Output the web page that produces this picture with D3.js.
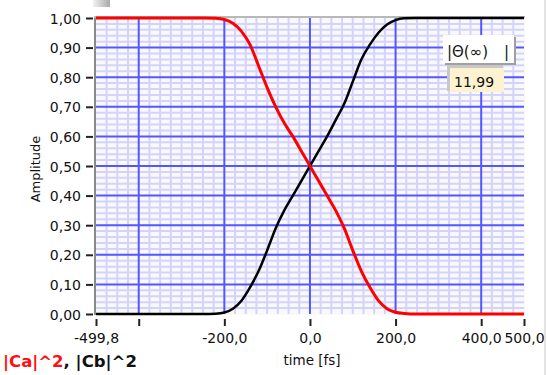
<!DOCTYPE html>
<html>
<head>
    <title>Amplitude vs time</title>
    <meta charset="utf-8">
</head>
<body style="margin:0;background:#fff">
<script src="https://d3js.org/d3.v7.min.js"></script>
<script>
    // data
    const time = [-499.8, -400, -300, -250, -220, -200, -180, -160, -140, -120, -100, -80, -60, -40, -20,
        0, 20, 40, 60, 80, 100, 120, 140, 160, 180, 200, 220, 250, 300, 400, 500];
    const ca2 = [1, 1, 1, 1, 0.999, 0.995, 0.982, 0.955, 0.91, 0.838, 0.765, 0.70, 0.645, 0.60, 0.55,
        0.50, 0.45, 0.40, 0.35, 0.29, 0.215, 0.145, 0.09, 0.045, 0.018, 0.006, 0.002, 0, 0, 0, 0];
    const cb2 = [0, 0, 0, 0, 0.001, 0.005, 0.018, 0.045, 0.09, 0.145, 0.215, 0.29, 0.35, 0.40, 0.45,
        0.50, 0.55, 0.60, 0.655, 0.71, 0.785, 0.86, 0.91, 0.95, 0.978, 0.993, 0.999, 1, 1, 1, 1];
    const xTicks = [-499.8, -400, -200, 0, 200, 400, 500];
    const xHidden = [-400];
    const yTicks = [0, 0.1, 0.2, 0.3, 0.4, 0.5, 0.6, 0.7, 0.8, 0.9, 1.0];
    const cursorName = '|\u0398(\u221E)';
    const cursorValue = 11.99;

    const SIZES = {
        WIDTH: 547,
        HEIGHT: 375,
        LEFT: 96,
        RIGHT: 524,
        TOP: 18,
        BOTTOM: 314
    };
    const FONT = 'DejaVu Sans, Verdana, sans-serif';

    // comma as decimal separator, plain hyphen for minus
    const locale = d3.formatLocale({decimal: ',', thousands: '.', grouping: [3], currency: ['', ''], minus: '-'});
    const fmt1 = locale.format('.1f');
    const fmt2 = locale.format('.2f');

    const svg = d3.select('body').append('svg')
        .attr('width', SIZES.WIDTH)
        .attr('height', SIZES.HEIGHT)
        .style('display', 'block');

    const x = d3.scaleLinear().domain([-499.8, 500]).range([SIZES.LEFT, SIZES.RIGHT]);
    const y = d3.scaleLinear().domain([0, 1]).range([SIZES.BOTTOM, SIZES.TOP]);

    // little gray gradient tab at the top
    const grad = svg.append('defs').append('linearGradient').attr('id', 'tab');
    grad.append('stop').attr('offset', '0%').attr('stop-color', '#f2f2f2');
    grad.append('stop').attr('offset', '100%').attr('stop-color', '#a8a8a8');
    svg.append('rect').attr('x', 93).attr('y', 0).attr('width', 17).attr('height', 7).attr('fill', 'url(#tab)');
    svg.append('line').attr('x1', 545).attr('x2', 545).attr('y1', 0).attr('y2', SIZES.HEIGHT)
        .attr('stroke', '#e4e4e4').attr('stroke-width', 2);

    // plot background
    svg.append('rect')
        .attr('x', x(-499.8)).attr('y', y(1))
        .attr('width', x(500) - x(-499.8) + 1).attr('height', y(0) - y(1) + 1)
        .attr('fill', '#f9f9fc');

    const grid = svg.append('g');
    const minorX = d3.range(-475, 500, 25).filter(d => d % 200 !== 0);
    const minorY = d3.range(1, 50).map(i => i / 50).filter((d, i) => (i + 1) % 5 !== 0);
    const majorX = [-400, -200, 0, 200, 400];
    const majorY = yTicks.slice(1, -1);

    grid.selectAll('.mx').data(minorX).enter().append('line')
        .attr('x1', d => x(d)).attr('x2', d => x(d)).attr('y1', y(1)).attr('y2', y(0))
        .attr('stroke', '#d4d4fb').attr('stroke-width', 2);
    grid.selectAll('.my').data(minorY).enter().append('line')
        .attr('x1', x(-499.8)).attr('x2', x(500)).attr('y1', d => y(d)).attr('y2', d => y(d))
        .attr('stroke', '#d4d4fb').attr('stroke-width', 2);
    grid.selectAll('.Mx').data(majorX).enter().append('line')
        .attr('x1', d => x(d)).attr('x2', d => x(d)).attr('y1', y(1)).attr('y2', y(0))
        .attr('stroke', '#5656ff').attr('stroke-width', 2);
    grid.selectAll('.My').data(majorY).enter().append('line')
        .attr('x1', x(-499.8)).attr('x2', x(500)).attr('y1', d => y(d)).attr('y2', d => y(d))
        .attr('stroke', '#5656ff').attr('stroke-width', 2);

    // frame, left and top
    svg.append('line').attr('x1', SIZES.LEFT - 1).attr('x2', SIZES.LEFT - 1)
        .attr('y1', SIZES.TOP - 2).attr('y2', SIZES.BOTTOM + 1)
        .attr('stroke', '#8a8a8a').attr('stroke-width', 2);
    svg.append('line').attr('x1', SIZES.LEFT - 2).attr('x2', SIZES.RIGHT + 1)
        .attr('y1', SIZES.TOP - 1).attr('y2', SIZES.TOP - 1)
        .attr('stroke', '#b8b8b8').attr('stroke-width', 2);

    // curves
    const line = vals => d3.line()
        .x((d, i) => x(time[i]))
        .y(d => y(d))
        .curve(d3.curveMonotoneX)(vals);

    svg.append('path').attr('d', line(cb2))
        .attr('fill', 'none').attr('stroke', '#000').attr('stroke-width', 2.5);
    svg.append('path').attr('d', line(ca2))
        .attr('fill', 'none').attr('stroke', '#ff0000').attr('stroke-width', 3);

    // axes
    const xAxis = svg.append('g')
        .attr('transform', `translate(0,${SIZES.BOTTOM + 5})`)
        .call(d3.axisBottom(x).tickValues(xTicks).tickSize(7).tickPadding(7)
            .tickFormat(d => xHidden.includes(d) ? '' : fmt1(d)));
    const yAxis = svg.append('g')
        .attr('transform', `translate(${SIZES.LEFT - 3},0)`)
        .call(d3.axisLeft(y).tickValues(yTicks).tickSize(7).tickPadding(5).tickFormat(fmt2));

    [xAxis, yAxis].forEach(a => {
        a.select('.domain').remove();
        a.selectAll('line').attr('stroke', '#222').attr('stroke-width', 2);
        a.selectAll('text').attr('fill', '#111').style('font-family', FONT).style('font-size', '14px');
    });
    yAxis.selectAll('text').attr('dy', '0.36em');

    // axis titles
    svg.append('text')
        .attr('x', 312).attr('y', 365)
        .attr('text-anchor', 'middle')
        .style('font-family', FONT).style('font-size', '13.5px').attr('fill', '#111')
        .text('time [fs]');
    svg.append('text')
        .attr('transform', 'translate(40,169) rotate(-90)')
        .attr('text-anchor', 'middle')
        .style('font-family', FONT).style('font-size', '13px').attr('fill', '#111')
        .text('Amplitude');

    // legend
    const legend = svg.append('text')
        .attr('x', 3).attr('y', 367)
        .style('font-family', FONT).style('font-size', '16.5px').style('font-weight', 'bold');
    legend.append('tspan').attr('fill', '#ff1010').text('|Ca|^2');
    legend.append('tspan').attr('fill', '#111').text(', |Cb|^2');

    // cursor box
    const cur = svg.append('g');
    cur.append('rect').attr('x', 445).attr('y', 37).attr('width', 71).attr('height', 28).attr('fill', '#a0a0a0');
    cur.append('rect').attr('x', 443).attr('y', 35).attr('width', 71).attr('height', 28).attr('fill', '#fff');
    cur.append('text').attr('x', 447).attr('y', 57)
        .style('font-family', FONT).style('font-size', '15px').attr('fill', '#111')
        .text(cursorName);
    cur.append('text').attr('x', 504).attr('y', 57)
        .style('font-family', FONT).style('font-size', '15px').attr('fill', '#111')
        .text('|');
    cur.append('rect').attr('x', 447).attr('y', 65).attr('width', 56).attr('height', 26).attr('fill', '#c8c8c8');
    cur.append('rect').attr('x', 450).attr('y', 68).attr('width', 54).attr('height', 24).attr('fill', '#fdf3d0');
    cur.append('text').attr('x', 454).attr('y', 87)
        .style('font-family', FONT).style('font-size', '14px').attr('fill', '#111')
        .text(fmt2(cursorValue));
</script>
</body>
</html>
